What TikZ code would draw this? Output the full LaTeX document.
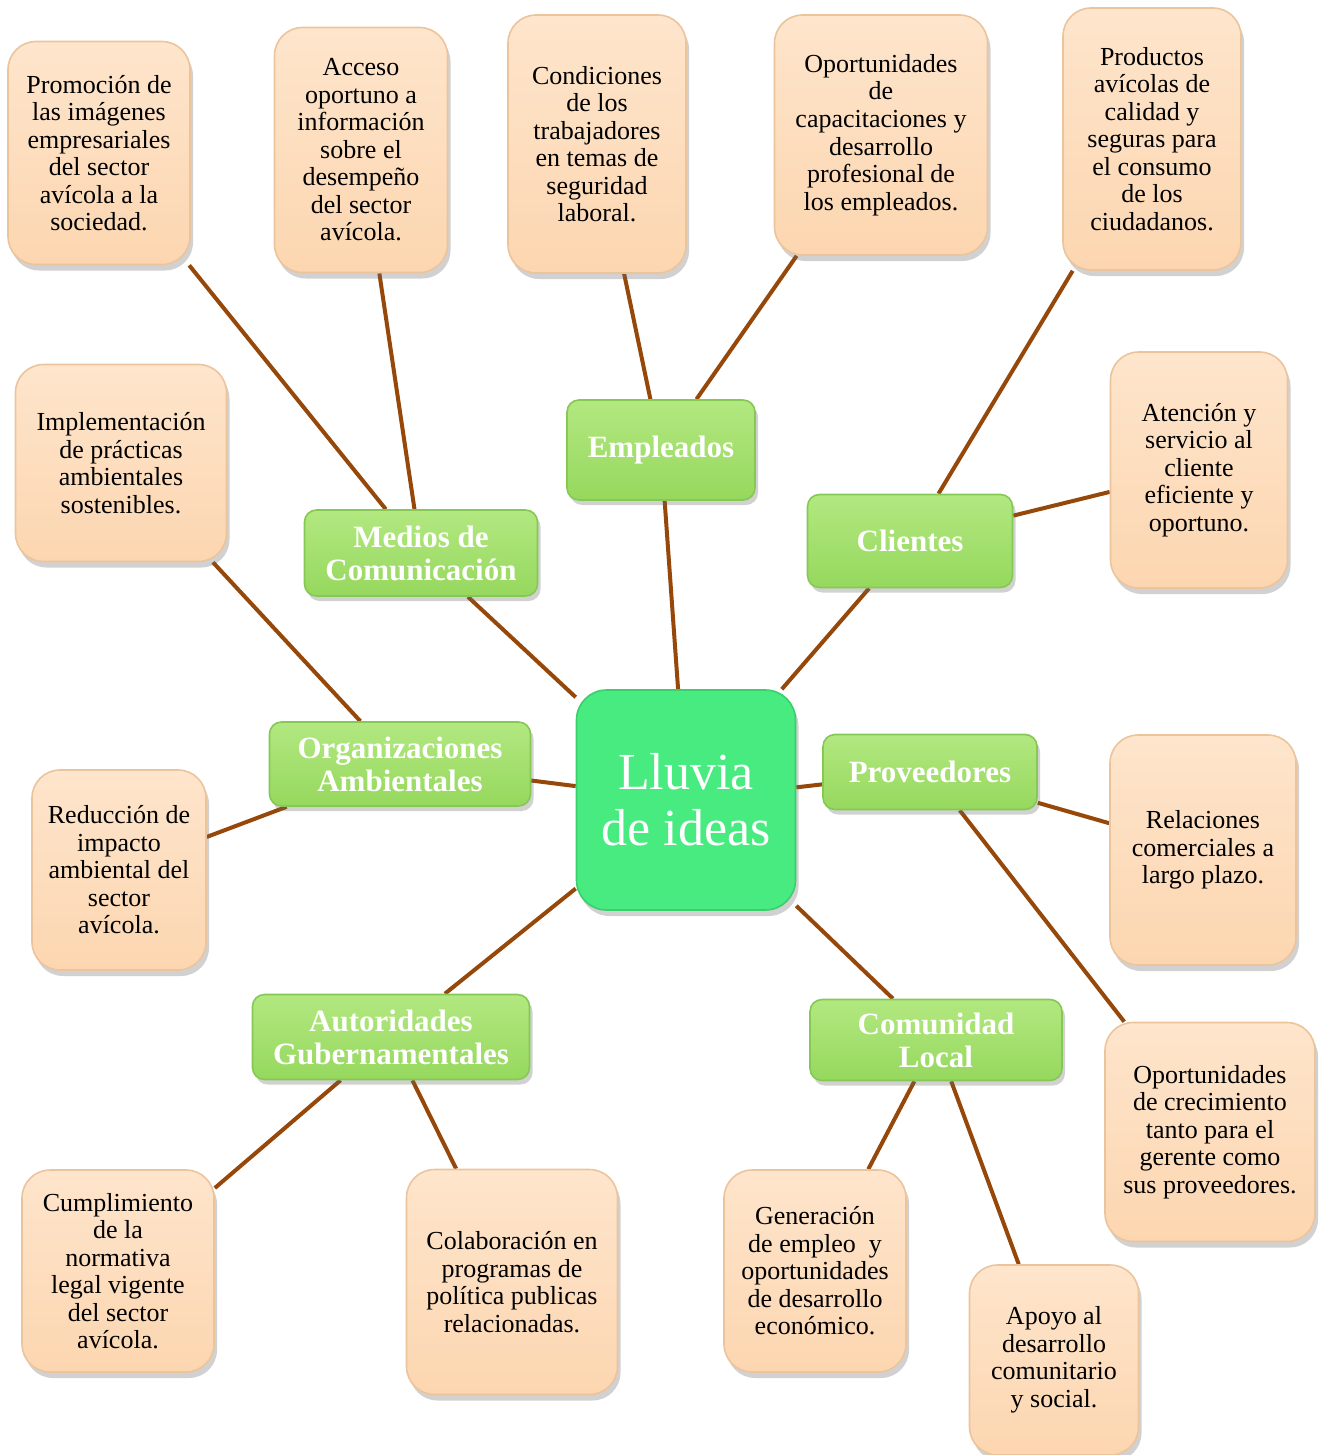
\documentclass[tikz,border=0pt]{standalone}
\usepackage{fontspec}
\setmainfont{Liberation Serif}
\usetikzlibrary{shadows,backgrounds}

\definecolor{peachtop}{RGB}{254,229,204}
\definecolor{peachbot}{RGB}{252,214,176}
\definecolor{peachline}{RGB}{236,196,156}
\definecolor{leaftop}{RGB}{178,232,128}
\definecolor{leafbot}{RGB}{150,216,94}
\definecolor{leafline}{RGB}{134,200,84}
\definecolor{hubfill}{RGB}{72,235,128}
\definecolor{hubline}{RGB}{58,206,108}
\definecolor{branch}{RGB}{150,72,10}

\tikzset{
  idea/.style={draw=peachline, line width=0.8pt, top color=peachtop, bottom color=peachbot,
    rounded corners=14pt, align=center, inner sep=0pt,
    drop shadow={shadow xshift=1.5pt, shadow yshift=-3pt, opacity=0.3, fill=black!60},
    font=\fontsize{13}{13.75}\selectfont},
  group/.style={draw=leafline, line width=0.8pt, top color=leaftop, bottom color=leafbot,
    rounded corners=6pt, align=center, inner sep=0pt, text=white,
    drop shadow={shadow xshift=1.5pt, shadow yshift=-2.5pt, opacity=0.3, fill=black!60},
    font=\bfseries\fontsize{15.5}{16.5}\selectfont},
  hub/.style={draw=hubline, line width=0.8pt, fill=hubfill, rounded corners=15pt,
    align=center, inner sep=0pt, text=white,
    drop shadow={shadow xshift=1.5pt, shadow yshift=-3pt, opacity=0.3, fill=black!60},
    font=\fontsize{26}{28}\selectfont},
  link/.style={draw=branch, line width=2pt}
}

\begin{document}
\begin{tikzpicture}[x=0.5pt, y=-0.5pt]
  \useasboundingbox (0,0) rectangle (1322,1455);

  % centre
  \node[hub, minimum width=109.5pt, minimum height=110pt] (lluvia) at (686,800) {Lluvia\\de ideas};

  % groups
  \node[group, minimum width=116.5pt, minimum height=43pt] (medios) at (421,553) {Medios de\\Comunicación};
  \node[group, minimum width=94pt, minimum height=50pt] (empleados) at (661,450) {Empleados};
  \node[group, minimum width=102.5pt, minimum height=46.5pt] (clientes) at (910,541) {Clientes};
  \node[group, minimum width=130.5pt, minimum height=42pt] (organiz) at (400,764) {Organizaciones\\Ambientales};
  \node[group, minimum width=107pt, minimum height=37.5pt] (proveed) at (930,772) {Proveedores};
  \node[group, minimum width=138.5pt, minimum height=42.5pt] (autorid) at (391,1037) {Autoridades\\Gubernamentales};
  \node[group, minimum width=126pt, minimum height=40.5pt] (comunid) at (936,1040) {Comunidad\\Local};

  % ideas
  \node[idea, minimum width=91pt, minimum height=111.5pt] (promocion) at (99,153)
    {Promoción de\\las imágenes\\empresariales\\del sector\\avícola a la\\sociedad.};
  \node[idea, minimum width=86.5pt, minimum height=122.5pt] (acceso) at (361,150)
    {Acceso\\oportuno a\\información\\sobre el\\desempeño\\del sector\\avícola.};
  \node[idea, minimum width=89pt, minimum height=129pt] (condic) at (597,144)
    {Condiciones\\de los\\trabajadores\\en temas de\\seguridad\\laboral.};
  \node[idea, minimum width=106.5pt, minimum height=120pt] (capacit) at (881,135)
    {Oportunidades\\de\\capacitaciones y\\desarrollo\\profesional de\\los empleados.};
  \node[idea, minimum width=89pt, minimum height=131pt] (productos) at (1152,139)
    {Productos\\avícolas de\\calidad y\\seguras para\\el consumo\\de los\\ciudadanos.};
  \node[idea, minimum width=88.5pt, minimum height=118pt] (atencion) at (1199,470)
    {Atención y\\servicio al\\cliente\\eficiente y\\oportuno.};
  \node[idea, minimum width=105.5pt, minimum height=98.5pt] (implem) at (121,463)
    {Implementación\\de prácticas\\ambientales\\sostenibles.};
  \node[idea, minimum width=87pt, minimum height=100pt] (reduccion) at (119,870)
    {Reducción de\\impacto\\ambiental del\\sector\\avícola.};
  \node[idea, minimum width=93pt, minimum height=115pt] (relacion) at (1203,850)
    {Relaciones\\comerciales a\\largo plazo.};
  \node[idea, minimum width=105pt, minimum height=109.5pt] (crecim) at (1210,1132)
    {Oportunidades\\de crecimiento\\tanto para el\\gerente como\\sus proveedores.};
  \node[idea, minimum width=96pt, minimum height=101pt] (cumplim) at (118,1271)
    {Cumplimiento\\de la\\normativa\\legal vigente\\del sector\\avícola.};
  \node[idea, minimum width=105.5pt, minimum height=112.5pt] (colabor) at (512,1282)
    {Colaboración en\\programas de\\política publicas\\relacionadas.};
  \node[idea, minimum width=91pt, minimum height=101pt] (generac) at (815,1271)
    {Generación\\de empleo~ y\\oportunidades\\de desarrollo\\económico.};
  \node[idea, minimum width=84.5pt, minimum height=95pt] (apoyo) at (1054,1360)
    {Apoyo al\\desarrollo\\comunitario\\y social.};

  % branches
  \begin{scope}[on background layer]
    \foreach \g in {medios,empleados,clientes,organiz,proveed,autorid,comunid}
      \draw[link] (lluvia) -- (\g);
    \draw[link] (medios) -- (promocion);
    \draw[link] (medios) -- (acceso);
    \draw[link] (empleados) -- (condic);
    \draw[link] (empleados) -- (capacit);
    \draw[link] (clientes) -- (productos);
    \draw[link] (clientes) -- (atencion);
    \draw[link] (organiz) -- (implem);
    \draw[link] (organiz) -- (reduccion);
    \draw[link] (proveed) -- (relacion);
    \draw[link] (proveed) -- (crecim);
    \draw[link] (autorid) -- (cumplim);
    \draw[link] (autorid) -- (colabor);
    \draw[link] (comunid) -- (generac);
    \draw[link] (comunid) -- (apoyo);
  \end{scope}
\end{tikzpicture}
\end{document}
